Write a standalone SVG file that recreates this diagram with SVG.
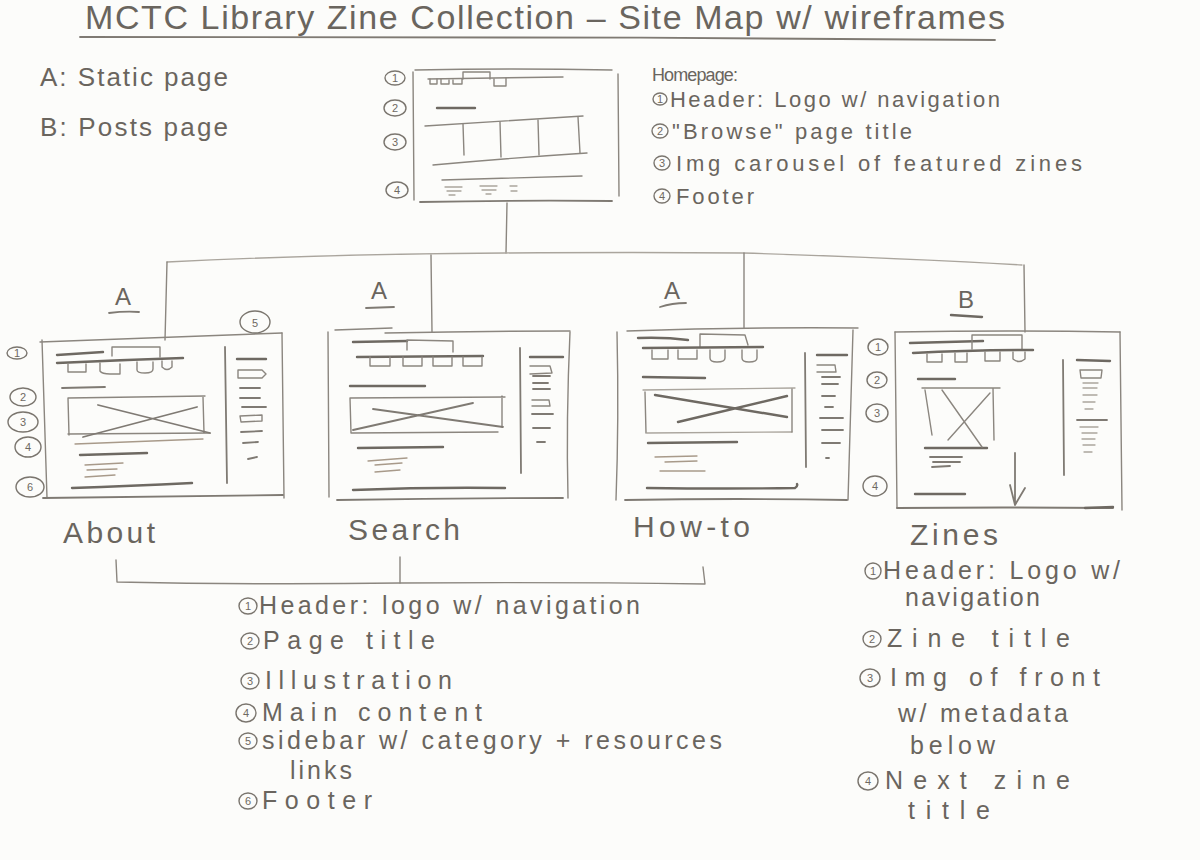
<svg xmlns="http://www.w3.org/2000/svg" width="1200" height="860" viewBox="0 0 1200 860">
<style>
.pen{stroke:#8b867f;stroke-width:1.4;fill:none;stroke-linecap:round;stroke-linejoin:round}
.dk{stroke:#6e6962;stroke-width:2.4}
.md{stroke:#7f7a73;stroke-width:1.8}
.lt{stroke:#aaa59d;stroke-width:1.3}
.br{stroke:#a89a8a;stroke-width:1.3}
.t{font-family:"Liberation Sans",Arial,sans-serif;fill:#6a655e}
.lg{font-size:25px}
.hl{font-size:22px}
.lb{font-size:30px}
.n{font-family:"Liberation Sans",Arial,sans-serif;fill:#6e6962;font-size:11px;text-anchor:middle}
.c{fill:none;stroke:#7a756e;stroke-width:1.4}
</style>
<rect width="1200" height="860" fill="#fcfcfa"/>

<g id="title">
<text class="t" x="85" y="29" font-size="34" textLength="920" lengthAdjust="spacing">MCTC Library Zine Collection – Site Map w/ wireframes</text>
<path class="pen md" d="M80,37 C300,35 700,38 995,40"/>
</g>

<g id="legend-types">
<text class="t" x="40" y="86" font-size="26" textLength="188" lengthAdjust="spacing">A: Static page</text>
<text class="t" x="40" y="136" font-size="26" textLength="188" lengthAdjust="spacing">B: Posts page</text>
</g>

<g id="connectors">
<path class="pen" d="M507,203 L506,253"/>
<path class="pen lt" d="M167,262 Q330,254 505,253 Q640,252 743,253 Q900,258 1022,265"/>
<path class="pen" d="M167,262 L165,340"/>
<path class="pen" d="M431,255 L432,332"/>
<path class="pen" d="M744,253 L744,328"/>
<path class="pen" d="M1024,265 L1025,332"/>
<path class="pen" d="M116,560 L117,582 Q260,585 400,583 Q560,582 705,584 L703,567"/>
<path class="pen" d="M400,557 L400,583"/>
</g>

<g id="homepage">
<path class="pen" d="M415,70 Q510,68 612,70"/>
<path class="pen" d="M413,72 L414,200"/>
<path class="pen" d="M618,74 L619,196"/>
<path class="pen md" d="M420,202 Q520,200 612,201"/>
<path class="pen" d="M428,79 L563,77"/>
<path class="pen" d="M430,79 v5 h7 v-5 M441,79 v5 h8 v-4 M453,80 v4 h9 v-5 M463,79 V72 H490 V79 M494,79 v7 h12 v-8"/>
<path class="pen dk" d="M437,108 L475,108"/>
<path class="pen" d="M425,126 Q500,121 583,116 M433,165 Q510,158 587,153"/>
<path class="pen" d="M463,124 L464,155 M500,122 L501,157 M538,120 L539,155 M578,117 L580,153"/>
<path class="pen" d="M442,180 L582,176"/>
<path class="pen lt" d="M445,187 h17 M447,191 h14 M449,195 h6 M480,186 h17 M482,190 h14 M486,194 h5 M510,186 h7 M511,191 h6"/>
<ellipse class="c" cx="395" cy="78" rx="10" ry="7"/><text class="n" x="395" y="82">1</text>
<ellipse class="c" cx="395" cy="108" rx="11" ry="8"/><text class="n" x="395" y="112">2</text>
<ellipse class="c" cx="395" cy="142" rx="11" ry="8"/><text class="n" x="395" y="146">3</text>
<ellipse class="c" cx="397" cy="190" rx="11" ry="8"/><text class="n" x="397" y="194">4</text>
</g>

<g id="homepage-legend">
<text class="t" x="652" y="81" font-size="18" textLength="86" lengthAdjust="spacing">Homepage:</text>
<ellipse class="c" cx="660" cy="99" rx="7" ry="6"/><text class="n" x="660" y="103">1</text>
<text class="t hl" x="670" y="107" textLength="330" lengthAdjust="spacing">Header: Logo w/ navigation</text>
<ellipse class="c" cx="660" cy="131" rx="8" ry="7"/><text class="n" x="660" y="135">2</text>
<text class="t hl" x="672" y="139" textLength="240" lengthAdjust="spacing">"Browse" page title</text>
<ellipse class="c" cx="662" cy="163" rx="8" ry="7"/><text class="n" x="662" y="167">3</text>
<text class="t hl" x="676" y="171" textLength="406" lengthAdjust="spacing">Img carousel of featured zines</text>
<ellipse class="c" cx="662" cy="196" rx="8" ry="7"/><text class="n" x="662" y="200">4</text>
<text class="t hl" x="676" y="204" textLength="78" lengthAdjust="spacing">Footer</text>
</g>

<g id="about">
<text class="t" x="123" y="305" font-size="24" text-anchor="middle">A</text>
<path class="pen md" d="M109,313 Q125,311 139,312"/>
<path class="pen" d="M40,342 Q160,338 282,333"/>
<path class="pen" d="M42,340 L47,498"/>
<path class="pen" d="M282,333 L284,498"/>
<path class="pen md" d="M43,498 Q160,497 283,495"/>
<path class="pen dk" d="M57,355 L103,352"/>
<path class="pen" d="M112,356 L112,347 L160,347 L160,357"/>
<path class="pen dk" d="M57,363 Q120,360 183,358"/>
<path class="pen" d="M68,364 v8 h18 v-8 M100,363 v8 q2,3 10,3 h10 v-10 M137,362 v8 q0,3 8,3 q8,0 8,-4 v-7 M162,361 v6 q5,5 10,0 v-6"/>
<path class="pen md" d="M62,388 L105,387"/>
<path class="pen" d="M68,398 L205,396 M68,398 L69,435 M203,397 L204,433 M68,434 L210,433"/>
<path class="pen md" d="M98,405 L210,433 M83,437 L197,407"/>
<path class="pen br" d="M75,444 L203,439"/>
<path class="pen dk" d="M80,455 L147,453"/>
<path class="pen br" d="M85,465 L123,463 M87,470 L117,469 M85,477 L115,475"/>
<path class="pen dk" d="M72,488 Q130,486 192,483"/>
<path class="pen md" d="M225,347 L227,483"/>
<path class="pen dk" d="M237,359 L266,359"/>
<path class="pen" d="M238,370 L262,370 L266,374 L262,378 L238,378 Z"/>
<path class="pen md" d="M240,388 L260,388 M240,398 L260,398 M242,407 L266,407"/>
<path class="pen" d="M240,416 L262,415 L262,421 L241,422 Z"/>
<path class="pen md" d="M241,432 L262,431 M243,443 L258,442 M248,459 L257,457"/>
<ellipse class="c" cx="255" cy="322" rx="15" ry="11"/><text class="n" x="255" y="327" font-size="13">5</text>
<ellipse class="c" cx="17" cy="353" rx="10" ry="6"/><text class="n" x="17" y="357">1</text>
<ellipse class="c" cx="23" cy="397" rx="13" ry="9"/><text class="n" x="23" y="401">2</text>
<ellipse class="c" cx="23" cy="422" rx="15" ry="10"/><text class="n" x="23" y="426">3</text>
<ellipse class="c" cx="28" cy="447" rx="13" ry="10"/><text class="n" x="28" y="451">4</text>
<ellipse class="c" cx="30" cy="487" rx="14" ry="10"/><text class="n" x="30" y="491">6</text>
<text class="t lb" x="63" y="543" textLength="92" lengthAdjust="spacing">About</text>
</g>

<g id="search">
<text class="t" x="379" y="299" font-size="24" text-anchor="middle">A</text>
<path class="pen md" d="M366,308 L394,307"/>
<path class="pen" d="M335,330 L392,328 M385,333 Q480,331 570,331"/>
<path class="pen" d="M328,332 L329,497"/>
<path class="pen" d="M570,332 Q566,420 568,498"/>
<path class="pen md" d="M337,500 Q450,498 563,498"/>
<path class="pen dk" d="M353,342 L407,341"/>
<path class="pen" d="M407,350 L407,340 L453,341 L453,352"/>
<path class="pen dk" d="M357,357 L483,356"/>
<path class="pen" d="M370,357 v9 h20 v-9 M403,357 v9 h19 v-9 M433,357 v9 h19 v-9 M463,357 v9 h19 v-9"/>
<path class="pen dk" d="M350,386 L425,386"/>
<path class="pen" d="M350,398 L505,397 M350,398 L351,433 M502,396 L502,427 M352,433 L498,432"/>
<path class="pen md" d="M353,430 L473,403 M373,409 L503,427"/>
<path class="pen dk" d="M358,448 L443,447"/>
<path class="pen br" d="M368,461 L407,458 M375,465 L402,463 M375,472 L400,470"/>
<path class="pen dk" d="M353,490 Q430,487 505,488"/>
<path class="pen md" d="M520,348 L521,473"/>
<path class="pen dk" d="M530,357 L563,357"/>
<path class="pen" d="M530,366 L550,366 L552,373 L530,374"/>
<path class="pen md" d="M533,376 L550,376 M533,383 L548,383 M533,389 L550,389"/>
<path class="pen" d="M532,400 L549,400 L550,406 L532,406"/>
<path class="pen md" d="M532,414 L553,414 M533,428 L550,428 M537,442 L545,442"/>
<text class="t lb" x="348" y="540" textLength="112" lengthAdjust="spacing">Search</text>
</g>

<g id="howto">
<text class="t" x="672" y="299" font-size="24" text-anchor="middle">A</text>
<path class="pen md" d="M660,307 Q672,303 686,303"/>
<path class="pen" d="M627,331 Q740,327 858,328"/>
<path class="pen" d="M617,332 Q619,420 616,500"/>
<path class="pen" d="M853,330 L848,500"/>
<path class="pen md" d="M625,500 Q740,498 847,500"/>
<path class="pen dk" d="M638,338 Q665,337 688,340"/>
<path class="pen" d="M700,347 L700,334 L745,335 L748,345"/>
<path class="pen dk" d="M643,348 L763,347"/>
<path class="pen" d="M652,350 v9 h16 v-9 M678,350 v9 h19 v-9 M710,350 v8 q0,4 7,4 q8,0 8,-4 v-8 M742,350 v8 q0,4 7,4 q8,0 8,-4 v-8"/>
<path class="pen dk" d="M643,377 L705,378"/>
<path class="pen lt" d="M643,390 L795,388 M647,433 L792,432"/>
<path class="pen" d="M645,392 L646,433 M792,389 L792,432"/>
<path class="pen dk" d="M655,395 L787,417 M678,422 L787,396"/>
<path class="pen dk" d="M648,443 L737,442"/>
<path class="pen br" d="M655,457 L697,456 M665,462 L697,461 M660,471 L705,471"/>
<path class="pen dk" d="M647,488 Q730,489 795,488 Q798,486 797,484"/>
<path class="pen md" d="M805,353 L806,467"/>
<path class="pen dk" d="M817,355 L847,355"/>
<path class="pen" d="M817,365 L835,365 L836,372 L817,372"/>
<path class="pen md" d="M822,377 L840,377 M822,384 L838,384 M822,396 L835,396 M825,407 L833,407 M820,418 L843,418 M822,430 L843,430 M822,443 L840,443 M826,458 L829,458"/>
<text class="t lb" x="633" y="537" textLength="117" lengthAdjust="spacing">How-to</text>
</g>

<g id="zines">
<text class="t" x="966" y="308" font-size="24" text-anchor="middle">B</text>
<path class="pen dk" d="M951,315 L982,317"/>
<path class="pen" d="M895,332 Q1010,330 1120,332"/>
<path class="pen" d="M895,332 L897,508"/>
<path class="pen" d="M1120,332 L1122,510"/>
<path class="pen md" d="M897,508 Q1000,507 1113,508"/>
<path class="pen dk" d="M1085,508 L1113,507"/>
<ellipse class="c" cx="878" cy="347" rx="10" ry="8"/><text class="n" x="878" y="351">1</text>
<ellipse class="c" cx="877" cy="380" rx="10" ry="8"/><text class="n" x="877" y="384">2</text>
<ellipse class="c" cx="877" cy="413" rx="11" ry="9"/><text class="n" x="877" y="417">3</text>
<ellipse class="c" cx="875" cy="486" rx="12" ry="10"/><text class="n" x="875" y="490">4</text>
<path class="pen dk" d="M910,343 L983,341"/>
<path class="pen" d="M972,349 L972,335 L1022,335 L1022,350"/>
<path class="pen dk" d="M913,353 Q970,350 1033,350"/>
<path class="pen" d="M927,354 v8 h15 v-8 M955,353 v9 h12 v-9 M985,352 v9 h15 v-9 M1013,352 v7 q6,5 12,0 v-7"/>
<path class="pen dk" d="M918,379 L955,379"/>
<path class="pen" d="M922,388 L1000,388 M925,390 L932,435 M993,388 L994,440"/>
<path class="pen dk" d="M925,448 L987,448"/>
<path class="pen" d="M942,390 L982,447 M948,440 L990,393"/>
<path class="pen md" d="M930,457 L962,457 M933,462 L960,462 M932,467 L950,466"/>
<path class="pen dk" d="M915,494 L965,494"/>
<path class="pen md" d="M1015,453 L1015,505 M1010,485 L1015,505 L1025,488"/>
<path class="pen md" d="M1063,360 L1064,475"/>
<path class="pen dk" d="M1077,360 L1110,361"/>
<path class="pen" d="M1080,370 L1102,370 L1101,378 L1081,378 Z"/>
<path class="pen lt" d="M1083,383 L1098,383 M1083,388 L1097,388 M1083,395 L1097,395 M1083,402 L1095,402 M1085,409 L1093,409"/>
<path class="pen md" d="M1077,420 L1107,420"/>
<path class="pen lt" d="M1080,427 L1098,427 M1082,433 L1097,433 M1082,439 L1095,439 M1083,445 L1095,445 M1084,452 L1092,452"/>
<text class="t lb" x="910" y="545" textLength="88" lengthAdjust="spacing">Zines</text>
</g>

<g id="static-pages-legend">
<ellipse class="c" cx="248" cy="606" rx="9" ry="8"/><text class="n" x="248" y="610">1</text>
<text class="t lg" x="259" y="614" textLength="381" lengthAdjust="spacing">Header: logo w/ navigation</text>
<ellipse class="c" cx="250" cy="641" rx="9" ry="8"/><text class="n" x="250" y="645">2</text>
<text class="t lg" x="263" y="649" textLength="172" lengthAdjust="spacing">Page title</text>
<ellipse class="c" cx="250" cy="681" rx="9" ry="8"/><text class="n" x="250" y="685">3</text>
<text class="t lg" x="265" y="689" textLength="187" lengthAdjust="spacing">Illustration</text>
<ellipse class="c" cx="246" cy="713" rx="10" ry="9"/><text class="n" x="246" y="717">4</text>
<text class="t lg" x="262" y="721" textLength="220" lengthAdjust="spacing">Main content</text>
<ellipse class="c" cx="248" cy="741" rx="9" ry="8"/><text class="n" x="248" y="745">5</text>
<text class="t lg" x="262" y="749" textLength="460" lengthAdjust="spacing">sidebar w/ category + resources</text>
<text class="t lg" x="290" y="779" textLength="62" lengthAdjust="spacing">links</text>
<ellipse class="c" cx="248" cy="801" rx="9" ry="8"/><text class="n" x="248" y="805">6</text>
<text class="t lg" x="262" y="809" textLength="110" lengthAdjust="spacing">Footer</text>
</g>

<g id="zines-legend">
<ellipse class="c" cx="873" cy="571" rx="8" ry="8"/><text class="n" x="873" y="575">1</text>
<text class="t lg" x="883" y="579" textLength="237" lengthAdjust="spacing">Header: Logo w/</text>
<text class="t lg" x="905" y="606" textLength="135" lengthAdjust="spacing">navigation</text>
<ellipse class="c" cx="872" cy="639" rx="9" ry="8"/><text class="n" x="872" y="643">2</text>
<text class="t lg" x="887" y="647" textLength="183" lengthAdjust="spacing">Zine title</text>
<ellipse class="c" cx="870" cy="678" rx="10" ry="9"/><text class="n" x="870" y="682">3</text>
<text class="t lg" x="890" y="686" textLength="210" lengthAdjust="spacing">Img of front</text>
<text class="t lg" x="898" y="722" textLength="170" lengthAdjust="spacing">w/ metadata</text>
<text class="t lg" x="910" y="754" textLength="85" lengthAdjust="spacing">below</text>
<ellipse class="c" cx="868" cy="781" rx="10" ry="9"/><text class="n" x="868" y="785">4</text>
<text class="t lg" x="885" y="789" textLength="185" lengthAdjust="spacing">Next zine</text>
<text class="t lg" x="908" y="819" textLength="82" lengthAdjust="spacing">title</text>
</g>
</svg>
